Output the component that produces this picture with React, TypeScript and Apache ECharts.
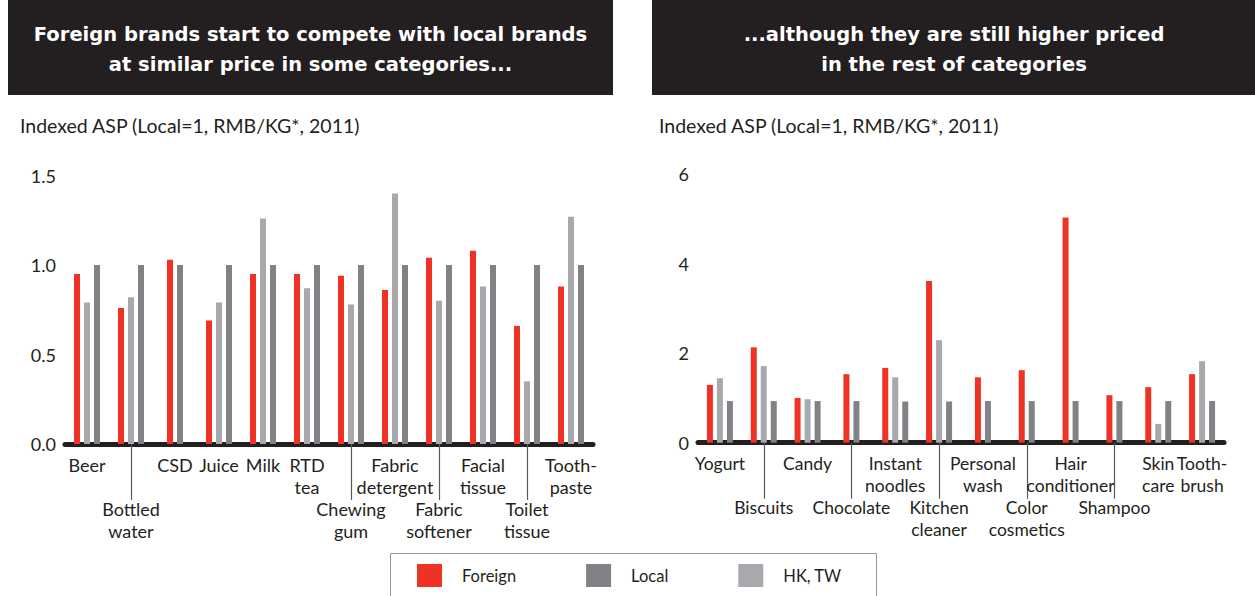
import React, { useEffect, useRef } from "react";
import * as echarts from "echarts";

const leftCategories = ["Beer", "Bottled\nwater", "CSD", "Juice", "Milk", "RTD\ntea", "Chewing\ngum", "Fabric\ndetergent", "Fabric\nsoftener", "Facial\ntissue", "Toilet\ntissue", "Tooth-\npaste"];
const leftForeign = [0.95, 0.76, 1.03, 0.69, 0.95, 0.95, 0.94, 0.86, 1.04, 1.08, 0.66, 0.88];
const leftLocal = [1, 1, 1, 1, 1, 1, 1, 1, 1, 1, 1, 1];
const leftHKTW: (number | null)[] = [0.79, 0.82, null, 0.79, 1.26, 0.87, 0.78, 1.4, 0.8, 0.88, 0.35, 1.27];
const leftLower = [1, 6, 8, 10];
const leftTicks = [0, 0.5, 1.0, 1.5];

const rightCategories = ["Yogurt", "Biscuits", "Candy", "Chocolate", "Instant\nnoodles", "Kitchen\ncleaner", "Personal\nwash", "Color\ncosmetics", "Hair\nconditioner", "Shampoo", "Skin\ncare", "Tooth-\nbrush"];
const rightForeign = [1.29, 2.13, 1.0, 1.53, 1.67, 3.61, 1.46, 1.62, 5.03, 1.06, 1.24, 1.53];
const rightLocal = [0.93, 0.93, 0.93, 0.93, 0.92, 0.92, 0.93, 0.93, 0.93, 0.93, 0.93, 0.93];
const rightHKTW: (number | null)[] = [1.44, 1.71, 0.97, null, 1.46, 2.29, null, null, null, null, 0.42, 1.82];
const rightLower = [1, 3, 5, 7, 9];
const rightTicks = [0, 2, 4, 6];

const titleLeft = "Foreign brands start to compete with local brands\nat similar price in some categories...";
const titleRight = "...although they are still higher priced\nin the rest of categories";
const caption = "Indexed ASP (Local=1, RMB/KG*, 2011)";

const RED = "#ee3224";
const DARK = "#808285";
const LIGHT = "#a7a9ac";
const INK = "#231f20";
const FONT = "Lato";
const TITLE_FONT = '"DejaVu Sans"';

function makeRender(hk: (number | null)[], kind: string, color: string) {
  return (params: any, api: any) => {
    const i = api.value(0);
    const v = api.value(1);
    const order = hk[i] != null ? ["f", "h", "l"] : ["f", "l"];
    const k = order.indexOf(kind);
    const n = order.length;
    const base = api.coord([i, 0]);
    const top = api.coord([i, v]);
    const x = base[0] + (k - (n - 1) / 2) * 10 - 3;
    return {
      type: "rect",
      shape: { x, y: top[1], width: 6, height: base[1] - top[1] },
      style: { fill: color },
    };
  };
}

function seriesFor(idx: number, foreign: number[], local: number[], hk: (number | null)[]) {
  const mk = (name: string, vals: (number | null)[], kind: string, color: string) => ({
    type: "custom",
    name,
    xAxisIndex: idx,
    yAxisIndex: idx,
    itemStyle: { color },
    encode: { x: 0, y: 1 },
    renderItem: makeRender(hk, kind, color),
    data: vals.map((v, i) => [i, v]).filter((d) => d[1] != null),
  });
  return [
    mk("Foreign", foreign, "f", RED),
    mk("HK, TW", hk, "h", LIGHT),
    mk("Local", local, "l", DARK),
  ];
}

function xAxisFor(idx: number, cats: string[], lower: number[], size: number) {
  return {
    type: "category",
    gridIndex: idx,
    data: cats,
    axisLine: { show: true, lineStyle: { color: INK, width: 5 } },
    axisTick: {
      show: true,
      alignWithLabel: true,
      interval: (i: number) => lower.includes(i),
      length: 56,
      lineStyle: { color: "#58595b", width: 1.2 },
    },
    axisLabel: {
      interval: 0,
      margin: 10,
      color: INK,
      fontFamily: FONT,
      fontSize: size,
      lineHeight: 22,
      formatter: (val: string, i: number) => (lower.includes(i) ? "\n\n" + val : val),
    },
  };
}

function yAxisFor(idx: number, ticks: number[], dec: number) {
  return {
    type: "value",
    gridIndex: idx,
    min: ticks[0],
    max: ticks[ticks.length - 1],
    interval: ticks[1] - ticks[0],
    splitLine: { show: false },
    axisLine: { show: false },
    axisTick: { show: false },
    axisLabel: {
      margin: 9,
      color: INK,
      fontFamily: FONT,
      fontSize: 18,
      formatter: (v: number) => v.toFixed(dec),
    },
  };
}

export default function App() {
  const ref = useRef<HTMLDivElement>(null);
  useEffect(() => {
    if (!ref.current) return;
    const chart = echarts.init(ref.current, null, { renderer: "svg" });
    chart.setOption({
      animation: false,
      backgroundColor: "#ffffff",
      grid: [
        { left: 65, top: 175.5, width: 528, height: 268.5 },
        { left: 698, top: 174, width: 526, height: 268.7 },
      ],
      xAxis: [xAxisFor(0, leftCategories, leftLower, 18), xAxisFor(1, rightCategories, rightLower, 17.5)],
      yAxis: [yAxisFor(0, leftTicks, 1), yAxisFor(1, rightTicks, 0)],
      legend: {
        left: 417,
        top: 564,
        padding: 0,
        itemWidth: 25,
        itemHeight: 23,
        itemGap: 70,
        icon: "rect",
        data: ["Foreign", "Local", "HK, TW"],
        textStyle: { color: INK, fontFamily: FONT, fontSize: 16.5, padding: [0, 0, 0, 15] },
      },
      graphic: [
        { type: "rect", shape: { x: 8, y: 0, width: 605, height: 95 }, style: { fill: INK } },
        { type: "rect", shape: { x: 652, y: 0, width: 603, height: 95 }, style: { fill: INK } },
        {
          type: "text",
          x: 310.5,
          y: 19,
          style: { text: titleLeft, fill: "#ffffff", textAlign: "center", textVerticalAlign: "top", font: `bold 19.5px ${TITLE_FONT}`, lineHeight: 30 },
        },
        {
          type: "text",
          x: 954,
          y: 19,
          style: { text: titleRight, fill: "#ffffff", textAlign: "center", textVerticalAlign: "top", font: `bold 19.5px ${TITLE_FONT}`, lineHeight: 30 },
        },
        { type: "text", x: 20, y: 125, style: { text: caption, fill: INK, textVerticalAlign: "middle", font: `19.5px ${FONT}` } },
        { type: "text", x: 659, y: 125, style: { text: caption, fill: INK, textVerticalAlign: "middle", font: `19.5px ${FONT}` } },
        {
          type: "rect",
          shape: { x: 390.5, y: 553.5, width: 486, height: 60 },
          style: { fill: "none", stroke: "#939598", lineWidth: 1 },
        },
      ],
      series: [
        ...seriesFor(0, leftForeign, leftLocal, leftHKTW),
        ...seriesFor(1, rightForeign, rightLocal, rightHKTW),
      ],
    });
    return () => chart.dispose();
  }, []);
  return <div ref={ref} style={{ position: "fixed", left: 0, top: 0, width: 1255, height: 596 }} />;
}
